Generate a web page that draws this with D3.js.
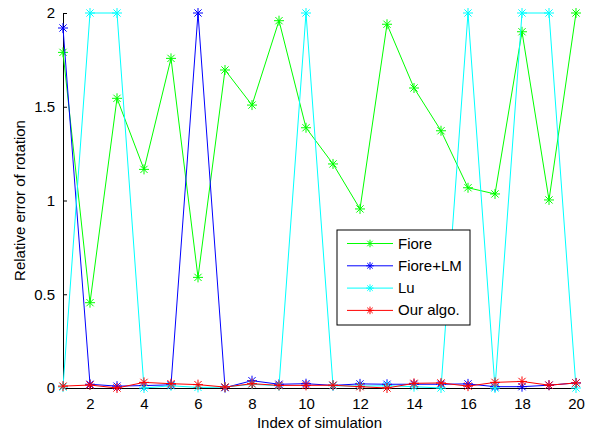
<!DOCTYPE html>
<html>
<head>
<meta charset="utf-8">
<script src="https://cdn.jsdelivr.net/npm/d3@7"></script>
<style>
  body { margin: 0; background: #fff; }
  text { font-family: "Liberation Sans", Arial, sans-serif; }
</style>
</head>
<body>
<div id="chart"></div>
<script>
const simIndex = d3.range(1, 21);
const fiore   = [1.79, 0.455, 1.545, 1.166, 1.758, 0.59, 1.696, 1.509, 1.959, 1.388, 1.195, 0.955, 1.94, 1.60, 1.372, 1.068, 1.035, 1.90, 1.003, 2.0];
const fioreLM = [1.92, 0.02, 0.01, 0.013, 0.017, 2.0, 0.002, 0.039, 0.02, 0.023, 0.014, 0.022, 0.02, 0.02, 0.02, 0.022, 0.007, 0.007, 0.015, 0.027];
const lu      = [0.005, 2.0, 2.0, 0.0, 0.012, 0.003, 0.005, 0.02, 0.012, 2.0, 0.012, 0.01, 0.012, 0.007, 0.0, 2.0, 0.0, 2.0, 2.0, 0.0];
const ourAlgo = [0.01, 0.016, 0.0, 0.03, 0.023, 0.018, 0.005, 0.023, 0.014, 0.014, 0.015, 0.007, 0.0, 0.025, 0.027, 0.01, 0.03, 0.035, 0.015, 0.027];
const seriesNames = ["Fiore", "Fiore+LM", "Lu", "Our algo."];
const seriesColors = ["#00ff00", "#0000ff", "#00ffff", "#ff0000"];
const yTicks = [0, 0.5, 1, 1.5, 2];
const xTicks = [2, 4, 6, 8, 10, 12, 14, 16, 18, 20];

const series = [fiore, fioreLM, lu, ourAlgo].map((vals, i) => ({
  name: seriesNames[i],
  color: seriesColors[i],
  values: vals.map((v, j) => ({ x: simIndex[j], y: v }))
}));

const margin = { top: 13, right: 24, bottom: 47, left: 63 },
    width = 600 - margin.left - margin.right,
    height = 435 - margin.top - margin.bottom;

const svg = d3.select("#chart")
    .append("svg")
    .attr("width", 600)
    .attr("height", 435);

const g = svg.append("g")
    .attr("transform", `translate(${margin.left},${margin.top})`);

const x = d3.scaleLinear().domain([1, 20]).range([0, width]);
const y = d3.scaleLinear().domain([0, 2]).range([height, 0]);

// axes, matlab style: ticks pointing inward
const xAxis = g.append("g")
    .attr("transform", `translate(0,${height})`)
    .call(d3.axisBottom(x).tickValues(xTicks).tickSize(-4).tickPadding(10).tickFormat(d3.format("d")));
const yAxis = g.append("g")
    .call(d3.axisLeft(y).tickValues(yTicks).tickSize(-4).tickPadding(8).tickFormat(d => d));

[xAxis, yAxis].forEach(a => {
  a.select(".domain").attr("stroke", "#000");
  a.selectAll(".tick line").attr("stroke", "#000");
  a.selectAll(".tick text").attr("font-size", 15).attr("fill", "#000")
    .attr("font-family", "Liberation Sans, Arial, sans-serif");
});

// asterisk marker
function star(r) {
  const d = r * 0.72;
  return `M${-r},0H${r}M0,${-r}V${r}M${-d},${-d}L${d},${d}M${-d},${d}L${d},${-d}`;
}

const line = d3.line().x(d => x(d.x)).y(d => y(d.y));

series.forEach(s => {
  g.append("path")
    .datum(s.values)
    .attr("fill", "none")
    .attr("stroke", s.color)
    .attr("stroke-width", 1)
    .attr("d", line);
  g.selectAll(null)
    .data(s.values)
    .join("path")
    .attr("transform", d => `translate(${x(d.x)},${y(d.y)})`)
    .attr("d", star(5))
    .attr("stroke", s.color)
    .attr("stroke-width", 1)
    .attr("fill", "none");
});

// axis labels
svg.append("text")
    .attr("x", margin.left + width / 2)
    .attr("y", 428)
    .attr("text-anchor", "middle")
    .attr("font-size", 15)
    .text("Index of simulation");

svg.append("text")
    .attr("transform", `translate(25,${margin.top + height / 2}) rotate(-90)`)
    .attr("text-anchor", "middle")
    .attr("font-size", 15)
    .text("Relative error of rotation");

// legend
const legend = svg.append("g").attr("transform", "translate(337,230)");
legend.append("rect")
    .attr("width", 133)
    .attr("height", 95)
    .attr("fill", "#fff")
    .attr("stroke", "#000");

series.forEach((s, i) => {
  const ly = 13.5 + i * 22.3;
  legend.append("line")
    .attr("x1", 10).attr("x2", 56)
    .attr("y1", ly).attr("y2", ly)
    .attr("stroke", s.color)
    .attr("stroke-width", 1);
  legend.append("path")
    .attr("transform", `translate(33,${ly})`)
    .attr("d", star(3.8))
    .attr("stroke", s.color)
    .attr("stroke-width", 1)
    .attr("fill", "none");
  legend.append("text")
    .attr("x", 61)
    .attr("y", ly + 5)
    .attr("font-size", 15)
    .text(s.name);
});
</script>
</body>
</html>
